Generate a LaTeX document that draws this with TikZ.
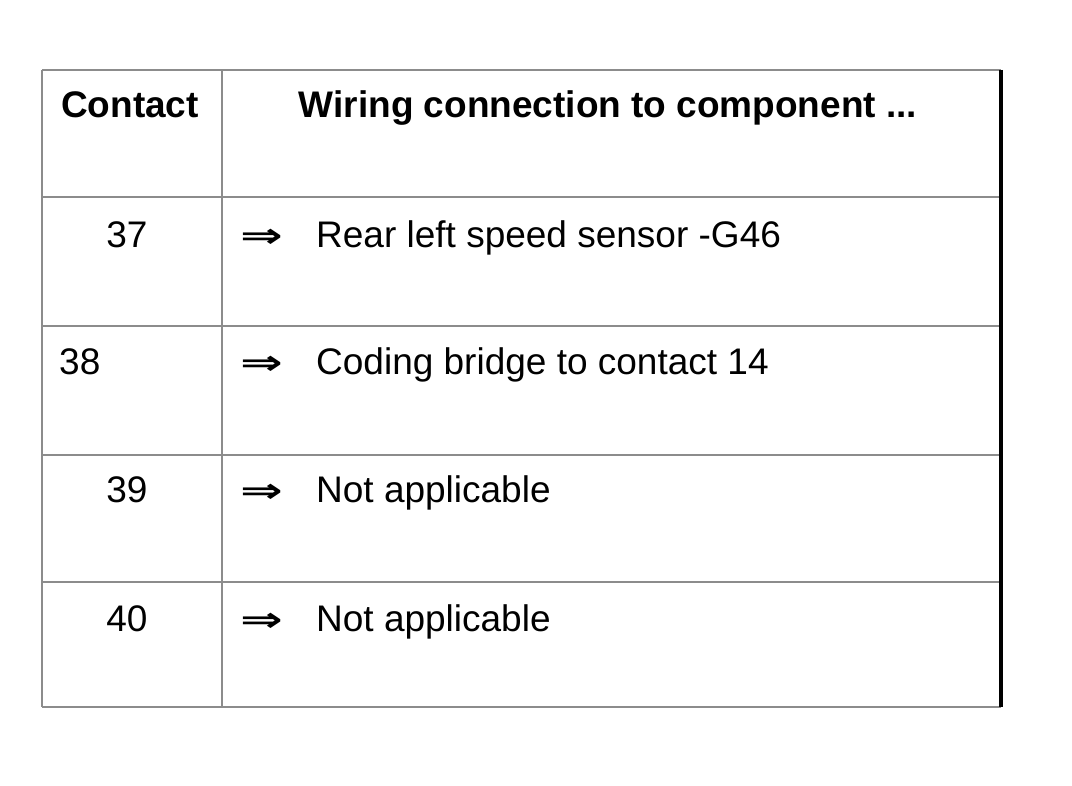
\documentclass[tikz,border=0pt]{standalone}
\usepackage{fontspec}
\setmainfont{Liberation Sans}
\newfontfamily\symfont{DejaVu Sans}
\begin{document}
\begin{tikzpicture}[x=1pt,y=-1pt,
  grid/.style={draw=black!45,line width=2.5pt},
  edge/.style={draw=black,line width=4pt},
  txt/.style={inner sep=0pt,font=\fontsize{37}{40}\selectfont},
  head/.style={txt,font=\fontsize{37}{40}\selectfont\bfseries},
  arr/.style={inner sep=0pt,xscale=1.5,font=\fontsize{34}{40}\symfont\bfseries}]
\useasboundingbox[fill=white] (0,0) rectangle (1072,786);
% table lines
\coordinate (tl) at (42,70);
\coordinate (tr) at (1001,70);
\coordinate (bl) at (42,707);
\coordinate (br) at (1001,707);
\coordinate (ct) at (222,70);
\coordinate (cb) at (222,707);
\draw[grid] (tl) -- (tr);
\draw[grid] (bl) -- (br);
\draw[grid] (tl) -- (bl);
\draw[grid] (ct) -- (cb);
\foreach \y/\n in {197/a,326/b,455/c,582/d}{
  \coordinate (l\n) at (42,\y);
  \coordinate (r\n) at (1001,\y);
  \draw[grid] (l\n) -- (r\n);
}
\draw[edge] (tr) -- (br);
% header
\node[head,anchor=base] (h1) at (130,118) {Contact};
\node[head,anchor=base] (h2) at (608,118) {Wiring connection to component ...};
% rows
\node[txt,anchor=base] (n37) at (127,248) {37};
\node[arr,anchor=base west] (a37) at (240,248) {⇒};
\node[txt,anchor=base west] (t37) at (316,248) {Rear left speed sensor -G46};
\node[txt,anchor=base west] (n38) at (59,375) {38};
\node[arr,anchor=base west] (a38) at (240,375) {⇒};
\node[txt,anchor=base west] (t38) at (316,375) {Coding bridge to contact 14};
\node[txt,anchor=base] (n39) at (127,503) {39};
\node[arr,anchor=base west] (a39) at (240,503) {⇒};
\node[txt,anchor=base west] (t39) at (316,503) {Not applicable};
\node[txt,anchor=base] (n40) at (127,631) {40};
\node[arr,anchor=base west] (a40) at (240,631) {⇒};
\node[txt,anchor=base west] (t40) at (316,631) {Not applicable};
\end{tikzpicture}
\end{document}
